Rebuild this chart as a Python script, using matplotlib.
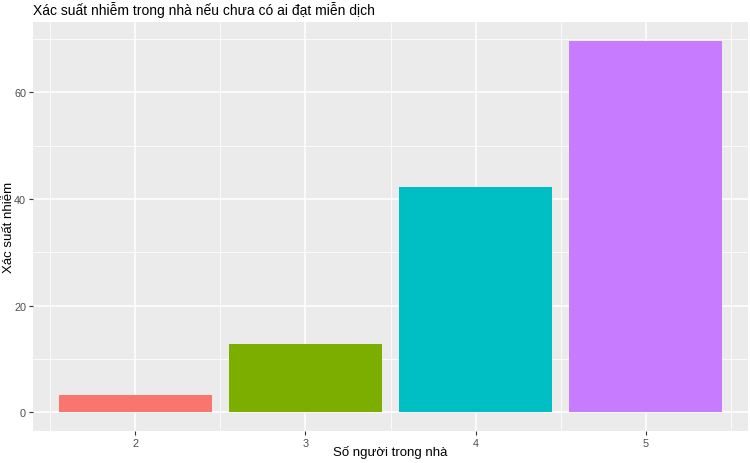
import matplotlib
matplotlib.use("Agg")
import matplotlib.pyplot as plt
from matplotlib.ticker import MultipleLocator

plt.rcParams['font.family'] = ['Liberation Sans', 'DejaVu Sans']

# data
so_nguoi = ["2", "3", "4", "5"]
xac_suat = [3.3, 12.9, 42.3, 69.7]
mau = ["#F8766D", "#7CAE00", "#00BFC4", "#C77CFF"]

fig = plt.figure(figsize=(7.5, 4.64), dpi=100)
ax = fig.add_axes([33 / 750, 32 / 464, 715 / 750, 409 / 464])
ax.set_facecolor("#EBEBEB")

x = list(range(len(so_nguoi)))
ax.bar(x, xac_suat, width=0.9, color=mau, zorder=3)

ax.set_xlim(-0.6, len(so_nguoi) - 1 + 0.6)
top = max(xac_suat)
ax.set_ylim(-0.05 * top, top * 1.05)

ax.set_xticks(x)
ax.set_xticklabels(so_nguoi)
ax.yaxis.set_major_locator(MultipleLocator(20))
ax.yaxis.set_minor_locator(MultipleLocator(10))
ax.xaxis.set_minor_locator(MultipleLocator(0.5))

ax.grid(which="major", color="white", linewidth=1.1, zorder=0)
ax.grid(which="minor", color="white", linewidth=0.55, zorder=0)
ax.tick_params(which="major", length=3, color="#333333", labelsize=7.8,
               labelcolor="#4D4D4D", width=0.8, pad=2)
ax.tick_params(which="minor", length=0)
for s in ax.spines.values():
    s.set_visible(False)

# axis titles placed like ggplot
fig.text(390 / 750, 1 - 453 / 464, "Số người trong nhà", fontsize=9.5,
         ha="center", va="center")
fig.text(9 / 750, 1 - 227 / 464, "Xác suất nhiễm", fontsize=9.5,
         ha="center", va="center", rotation=90)
ax.set_title("Xác suất nhiễm trong nhà nếu chưa có ai đạt miễn dịch",
             loc="left", fontsize=10, pad=6)

fig.savefig("out.png", dpi=100)
